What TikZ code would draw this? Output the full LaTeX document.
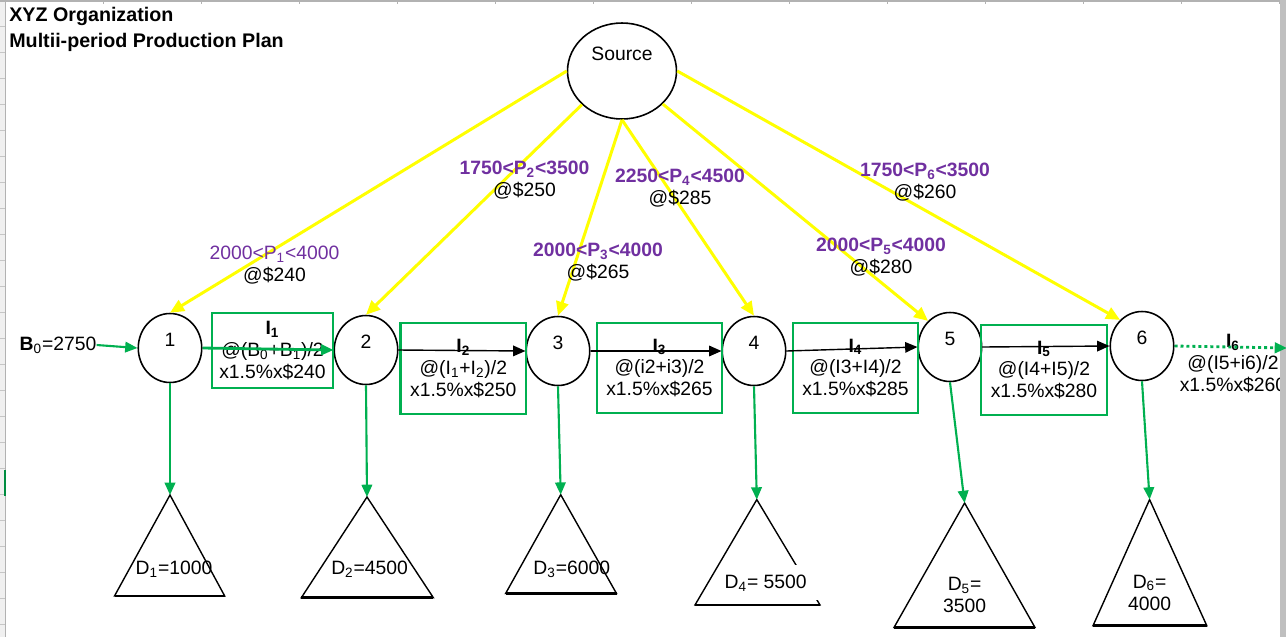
\documentclass[tikz,border=0pt]{standalone}
\usepackage{fontspec}
\setmainfont{Liberation Sans}
\usetikzlibrary{shapes.geometric, arrows.meta}

\definecolor{xlgruen}{HTML}{00B050}
\definecolor{xlgelb}{HTML}{FFFF00}
\definecolor{xllila}{HTML}{7030A0}

\begin{document}
\begin{tikzpicture}[
    x=0.02cm, y=-0.02cm,
    font=\fontsize{11}{12.5}\selectfont,
    % Perioden als Kreise
    stufe/.style={ellipse, draw, line width=0.9pt, minimum width=1.27cm, minimum height=1.38cm, inner sep=0pt},
    % Quelle oben
    quelle/.style={ellipse, draw, line width=0.9pt, minimum width=2.18cm, minimum height=1.92cm, inner sep=0pt},
    % Lagerbestand (gruener Kasten)
    lager/.style={draw=xlgruen, line width=1.6pt, align=center, inner sep=0pt},
    % Produktion (gelbe Pfeile)
    prod/.style={xlgelb, line width=1.7pt, -{Triangle[length=8pt, width=7pt]}},
    % Materialfluss (gruene Pfeile)
    fluss/.style={xlgruen, line width=1.2pt, -{Triangle[length=7pt, width=6pt]}},
    % Bestand in die naechste Periode
    weiter/.style={black, line width=0.8pt, -{Triangle[length=7pt, width=6pt]}},
    % Nachfrage-Dreieck
    bedarf/.style={line width=0.8pt, line join=miter},
    basis/.style={line width=1.5pt},
    % Beschriftung
    preis/.style={align=center, inner sep=0pt},
    title/.style={font=\fontsize{11.2}{13}\selectfont\bfseries, anchor=west, inner sep=0pt}
]

% --- Rahmen (Tabellenblatt) ---
\useasboundingbox (0,0) rectangle (1286,637);
\fill[gray!12] (0,0) rectangle (5,637);
\foreach \r in {26,52,...,630} \draw[gray!45, line width=0.4pt] (0,\r) -- (5,\r);
\draw[gray!60, line width=0.6pt] (5.5,0) -- (5.5,637);
\draw[xlgruen!80!black, line width=1.2pt] (5,470) -- (5,496); % markierte Zeile
\draw[gray!60, line width=0.6pt] (0,1) -- (1286,1);
\foreach \c in {103,201,...,1279} \draw[gray!60, line width=0.4pt] (\c,0) -- (\c,4);

% --- Titel ---
\node[title] (kopf1) at (9,16) {XYZ Organization};
\node[title] (kopf2) at (9,42) {Multii-period Production Plan};

% --- Quelle und Perioden ---
\node[quelle, label={[yshift=10pt]center:Source}] (src) at (622,71) {};

\node[stufe, label={[yshift=4.5pt]center:1}] (n1) at (170,348) {};
\node[stufe, label={[yshift=4.5pt]center:2}] (n2) at (366,350) {};
\node[stufe, label={[yshift=4.5pt]center:3}] (n3) at (558,351) {};
\node[stufe, label={[yshift=4.5pt]center:4}] (n4) at (754,351) {};
\node[stufe, label={[yshift=4.5pt]center:5}] (n5) at (950,347) {};
\node[stufe, label={[yshift=4.5pt]center:6}] (n6) at (1142,346) {};

% --- Lagerbestaende ---
\node[lager, minimum width=2.42cm, minimum height=1.5cm] (i1) at (272.5,350.5)
    {\textbf{I\textsubscript{1}}\\@(B\textsubscript{0}+B\textsubscript{1})/2\\x1.5\%x\$240};
\node[lager, minimum width=2.51cm, minimum height=1.82cm] (i2) at (463.3,368.5)
    {\textbf{I\textsubscript{2}}\\@(I\textsubscript{1}+I\textsubscript{2})/2\\x1.5\%x\$250};
\node[lager, minimum width=2.5cm, minimum height=1.8cm] (i3) at (659.5,368)
    {\textbf{I\textsubscript{3}}\\@(i2+i3)/2\\x1.5\%x\$265};
\node[lager, minimum width=2.5cm, minimum height=1.8cm] (i4) at (855.5,368)
    {\textbf{I\textsubscript{4}}\\@(I3+I4)/2\\x1.5\%x\$285};
\node[lager, minimum width=2.52cm, minimum height=1.8cm] (i5) at (1044,370)
    {\textbf{I\textsubscript{5}}\\@(I4+I5)/2\\x1.5\%x\$280};
\node[preis] (i6) at (1233,363.5)
    {\textbf{I\textsubscript{6}}\\@(I5+i6)/2\\x1.5\%x\$260};

% --- Produktion ---
\draw[prod] (src.west) -- (n1.north);
\draw[prod] (src.220) -- (n2.north);
\draw[prod] (src.south) -- (n3.north);
\draw[prod] (src.south) -- (n4.north);
\draw[prod] (src.321) -- (n5.130);
\draw[prod] (src.east) -- (n6.130);

\node[preis] (p1) at (274.5,265.3) {\textcolor{xllila}{2000<P\textsubscript{1}<4000}\\@\$240};
\node[preis] (p2) at (524.5,180.5) {\textcolor{xllila}{\bfseries 1750<P\textsubscript{2}<3500}\\@\$250};
\node[preis] (p3) at (598,262.2) {\textcolor{xllila}{\bfseries 2000<P\textsubscript{3}<4000}\\@\$265};
\node[preis] (p4) at (680,188.3) {\textcolor{xllila}{\bfseries 2250<P\textsubscript{4}<4500}\\@\$285};
\node[preis] (p5) at (881,257.2) {\textcolor{xllila}{\bfseries 2000<P\textsubscript{5}<4000}\\@\$280};
\node[preis] (p6) at (925,181.7) {\textcolor{xllila}{\bfseries 1750<P\textsubscript{6}<3500}\\@\$260};

% --- Bestand weitergeben ---
\node[preis] (b0) at (58,345) {\textbf{B}\textsubscript{0}=2750};
\draw[fluss] (b0.east) -- (n1.west);
\draw[fluss, line width=1.6pt] (n1.east) -- (n2.west);
\draw[weiter] (n2.east) -- (n3.west);
\draw[weiter] (n3.east) -- (n4.west);
\draw[weiter] (n4.east) -- (n5.west);
\draw[weiter] (n5.east) -- (n6.west);

\fill[gray!50] (1279.5,0) rectangle (1286,637); % Bildlaufleiste
\coordinate (i6end) at (1287,348);
\draw[fluss, line width=1.6pt, dash pattern=on 1.7pt off 1.7pt] (n6.east) -- (i6end);

% --- Nachfrage ---
\coordinate (d1) at (170,495);
\draw[bedarf] (d1) -- (224.7,596) -- (114.5,596) -- cycle;
\draw[basis] (114.5,596) -- (224.7,596);
\coordinate (d2) at (367,497);
\draw[bedarf] (d2) -- (433.3,597.6) -- (301.4,597.6) -- cycle;
\draw[basis] (301.4,597.6) -- (433.3,597.6);
\coordinate (d3) at (560.7,494.7);
\draw[bedarf] (d3) -- (616.5,593.5) -- (505.6,593.5) -- cycle;
\draw[basis] (505.6,593.5) -- (616.5,593.5);
\coordinate (d4) at (756.8,499.6);
\draw[bedarf] (d4) -- (820,605) -- (695,605) -- cycle;
\draw[basis] (695,605) -- (820,605);
\fill[white] (723,565) rectangle (824,600); % Textfeld verdeckt die Kante
\coordinate (d5) at (964.6,503);
\draw[bedarf] (d5) -- (1035,627.5) -- (894,627.5) -- cycle;
\draw[basis] (894,627.5) -- (1035,627.5);
\coordinate (d6) at (1149.6,499.6);
\draw[bedarf] (d6) -- (1206.8,625.7) -- (1093,625.7) -- cycle;
\draw[basis] (1093,625.7) -- (1206.8,625.7);

\draw[fluss] (n1.south) -- (d1);
\draw[fluss] (n2.south) -- (d2);
\draw[fluss] (n3.south) -- (d3);
\draw[fluss] (n4.south) -- (d4);
\draw[fluss] (n5.south) -- (d5);
\draw[fluss] (n6.south) -- (d6);

\node[preis] (t1) at (174,569) {D\textsubscript{1}=1000};
\node[preis] (t2) at (369.6,569) {D\textsubscript{2}=4500};
\node[preis] (t3) at (571.8,569) {D\textsubscript{3}=6000};
\node[preis] (t4) at (765.7,583) {D\textsubscript{4}= 5500};
\node[preis] (t5) at (964.6,595) {D\textsubscript{5}=\\3500};
\node[preis] (t6) at (1149.6,592.5) {D\textsubscript{6}=\\4000};

\end{tikzpicture}
\end{document}
